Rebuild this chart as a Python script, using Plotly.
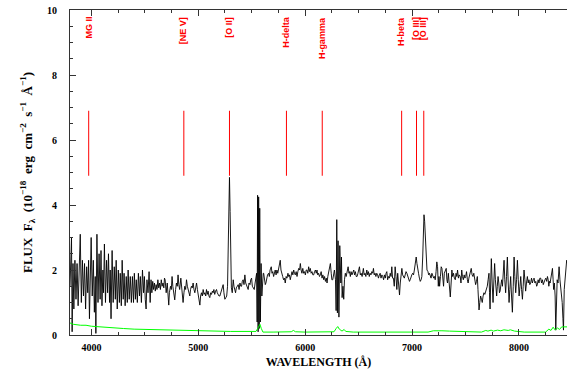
import plotly.graph_objects as go

# ---- spectrum (wavelength in Angstrom, flux in 1e-18 erg/cm2/s/A) ----
wave_a = [3800,3808,3814,3820,3828,3836,3846,3856,3866,3876,3886,3896,3906,3916,3926,3936,3946,3956,3966,3974,3982,3990,3998,4008,4018,4028,4036,4042,4052,4062,4072,4082,4090,4099,4108,4114,4122,4132,4142,4152,4160,4170,4176,4184,4194,4204,4214,4224,4232,4242,4252,4262,4270,4280,4288,4298,4306,4316,4326,4336,4344,4354,4364,4374,4384,4394,4402,4412,4420,4430,4440,4450,4458,4468,4478,4488,4496,4504,4512,4520,4530,4540,4550,4558,4566,4574,4582,4590,4598,4606,4614,4622,4630,4638,4646,4654,4662,4670,4678,4684]
flux_a = [1.5,2.9,3.0,0.1,2.2,0.8,2.3,1.1,2.2,0.9,2.0,3.1,1.0,2.3,1.2,2.2,0.8,2.1,1.3,2.3,0.5,1.7,3.0,1.2,2.3,0.7,1.8,0.05,3.1,1.0,2.5,1.1,2.6,0.9,2.0,1.3,2.8,1.0,2.3,1.3,2.5,1.0,2.0,0.5,2.6,1.0,2.1,1.1,2.3,0.8,2.0,1.0,1.9,0.9,2.3,1.1,1.9,0.9,1.8,1.0,2.0,1.1,1.8,1.0,1.8,1.0,1.9,1.1,1.7,1.0,1.9,1.2,1.8,1.0,2.0,1.3,1.8,1.1,0.8,1.7,1.3,1.95,1.0,1.7,1.3,1.65,1.4,1.6,1.35,1.55,1.4,1.7,1.45,1.6,1.4,1.7,1.5,1.6,1.45,1.75]

wave_b = [4690,4700,4710,4718,4724,4730,4740,4748,4755,4762,4770,4780,4788,4796,4804,4811,4818,4826,4837,4846,4852,4858,4866,4874,4882,4890,4898,4906,4914,4921,4928,4936,4944,4952,4960,4968,4976,4984,4992,5000,5008,5015,5022,5030,5038,5046,5054,5062,5070,5077,5085,5092,5100,5108,5116,5124,5132,5139,5146,5154,5162,5171,5178,5186,5194,5202,5210,5218,5226,5233,5240,5249,5258,5266,5274,5280,5286,5292,5298,5304,5310,5318,5327,5334,5341,5349,5356,5364,5374,5382,5390,5398,5405,5412,5420,5428,5436,5444,5452,5460,5467,5475,5484,5491,5499,5506,5514,5524,5532,5540,5546,5551,5555,5560,5565,5570,5575,5581,5588,5595,5602,5608]
flux_b = [1.7,1.3,1.6,1.2,0.92,1.3,1.5,1.4,1.8,1.5,1.3,1.08,1.4,1.6,1.5,1.85,1.55,1.4,1.75,1.4,1.2,1.0,1.3,1.5,1.4,1.7,1.5,1.35,1.25,1.2,1.4,1.5,1.45,1.6,1.4,1.3,1.45,1.6,1.4,1.2,1.05,0.92,1.2,1.3,1.2,1.4,1.25,1.3,1.2,1.4,1.25,1.35,1.2,1.15,1.3,1.25,1.35,1.3,1.4,1.25,1.35,1.4,1.3,1.25,1.2,1.2,1.3,1.4,1.5,1.55,1.3,1.1,1.15,1.2,1.5,2.6,4.0,4.85,3.8,2.0,1.45,1.3,1.7,1.5,1.4,1.3,1.45,1.5,1.55,1.4,1.6,1.5,1.5,1.65,1.7,1.55,1.85,1.6,1.5,1.45,1.4,1.6,1.55,1.7,1.75,1.5,1.45,1.4,1.6,1.9,1.9,0.4,4.3,0.1,4.25,0.2,3.9,0.4,2.2,1.2,1.8,1.9]

wave_c = [5612,5620,5627,5633,5640,5648,5658,5665,5672,5683,5690,5697,5705,5712,5720,5728,5736,5744,5752,5760,5767,5774,5782,5790,5798,5806,5814,5822,5830,5839,5846,5853,5861,5869,5877,5885,5893,5900,5908,5916,5924,5932,5940,5948,5955,5962,5970,5978,5986,5994,6002,6010,6017,6025,6033,6040,6048,6056,6064,6072,6080,6088,6096,6104,6111,6118,6126,6134,6142,6150,6158,6166,6174,6182,6190,6198,6205,6212,6220,6228,6236,6244,6250,6258,6266,6274,6284,6290,6296,6302,6308,6316,6324,6334,6340,6346,6354,6361,6368,6376,6384,6392,6402,6410,6416,6423,6430,6438,6446,6455,6462,6470,6478,6486,6494,6500,6508,6516,6524,6533]
flux_c = [1.9,1.7,1.55,1.6,1.75,1.85,1.9,1.8,2.0,2.1,1.9,1.95,1.8,1.9,2.0,1.85,2.0,1.9,2.05,2.1,2.3,2.0,1.85,1.8,1.7,1.75,1.6,1.8,1.75,1.9,1.8,1.85,1.7,1.9,1.95,1.85,2.0,1.9,1.85,1.95,1.8,1.95,2.05,2.0,2.2,2.0,1.9,2.05,1.9,1.95,1.85,2.0,2.0,1.9,2.1,1.95,2.05,1.9,1.95,1.85,1.85,1.95,2.0,1.9,2.0,1.85,1.9,1.8,1.85,1.95,1.75,1.85,1.7,1.8,1.65,1.75,1.6,1.8,1.95,2.05,2.2,1.9,1.7,1.7,1.85,2.0,1.7,0.75,3.55,0.68,2.9,0.55,2.75,1.6,2.4,1.15,1.5,1.1,1.7,1.9,1.8,2.0,2.1,1.9,1.95,1.8,1.95,1.85,1.9,2.0,1.85,1.95,1.8,1.8,1.9,2.0,2.1,1.85,1.9,1.8]

wave_d = [6540,6545,6552,6560,6568,6577,6585,6592,6600,6608,6616,6624,6632,6639,6646,6654,6662,6670,6678,6686,6694,6702,6710,6718,6726,6734,6742,6750,6757,6764,6772,6780,6788,6796,6804,6811,6818,6826,6834,6842,6850,6858,6866,6874,6883,6890,6898,6905,6912,6920,6928,6936,6944,6952,6960,6968,6976,6983,6990,6998,7006,7014,7022,7030,7039,7046,7054,7061,7069,7077,7085,7092,7100,7106,7112,7118,7124,7130,7140,7149,7156,7163,7170,7178,7186,7195,7203,7210,7217,7225,7232,7239,7246,7252,7258,7266,7273,7280,7287,7295,7302,7310,7320,7326,7332,7340,7348,7358,7366,7373,7380,7388,7396,7405,7412,7419,7426,7434,7442,7451]
flux_d = [1.95,2.05,1.85,1.9,1.8,2.0,1.85,1.95,1.8,1.9,1.85,1.95,1.9,2.05,1.85,1.9,1.8,1.9,1.85,1.75,1.85,1.9,1.75,1.85,1.8,1.7,1.85,1.75,1.9,1.95,1.7,1.8,1.75,1.9,1.8,2.1,1.75,1.75,1.5,2.1,1.8,1.4,1.9,1.6,1.23,1.6,1.9,2.05,1.85,1.8,1.75,1.85,1.95,1.9,1.8,1.75,1.65,1.7,1.8,1.85,1.9,1.85,2.0,2.2,2.4,2.2,1.95,1.9,1.75,1.65,1.7,1.8,2.4,3.2,3.7,3.5,2.9,2.45,2.0,1.95,1.85,1.9,1.85,1.75,1.9,1.8,1.75,1.8,1.7,1.95,2.25,2.1,1.5,1.8,1.5,1.8,2.1,2.05,1.6,1.5,1.9,2.0,2.05,1.7,1.6,1.9,1.5,1.17,1.6,2.0,1.8,1.9,1.75,1.7,1.9,1.8,2.0,1.75,1.85,1.8]

wave_e = [7458,7465,7472,7480,7488,7495,7502,7510,7518,7525,7532,7540,7548,7554,7562,7570,7578,7586,7595,7603,7611,7617,7622,7627,7634,7642,7650,7657,7665,7673,7681,7689,7697,7704,7712,7720,7725,7730,7736,7742,7750,7758,7765,7773,7780,7786,7792,7798,7805,7812,7818,7824,7832,7839,7846,7853,7861,7868,7876,7884,7892,7900,7908,7915,7923,7931,7939,7947,7955,7962,7970,7978,7986,7994,8002,8010,8017,8025,8033,8040,8048,8056,8063,8071,8079,8087,8094,8102,8110,8118,8126,8134,8142,8150,8158,8166,8173,8180,8188,8196,8204,8212,8220,8228,8236,8244,8252,8260,8267,8274,8280,8286,8292,8300,8307,8314,8320,8325,8332,8339,8345,8351,8358,8366,8372,8376,8384,8392,8398,8405,8412,8417,8424,8432,8440,8447,8455]
flux_e = [1.6,2.0,1.8,1.7,1.85,1.75,1.8,1.95,1.7,1.6,1.75,1.85,1.9,2.05,1.85,1.8,1.9,1.7,1.55,1.65,1.8,1.4,1.0,0.77,1.0,1.2,1.1,1.0,1.2,1.3,1.25,1.35,1.4,1.5,1.7,1.9,1.3,0.8,1.6,2.35,1.6,1.0,1.6,2.2,1.7,1.3,1.2,1.5,1.8,1.6,1.3,1.35,1.55,1.7,1.5,1.9,2.3,1.7,1.3,1.8,2.4,1.6,1.0,1.4,1.8,1.2,0.7,1.5,2.4,1.8,1.3,1.7,2.3,1.7,1.2,1.5,1.8,1.4,1.1,1.5,2.0,1.7,1.35,1.6,1.8,1.6,1.7,1.55,1.6,1.75,1.6,1.7,1.75,1.6,1.65,1.5,1.55,1.7,1.6,1.75,1.75,1.6,1.7,1.55,1.65,1.7,1.75,1.65,1.8,1.7,1.5,1.65,1.6,1.8,1.9,2.05,1.7,1.4,1.6,1.2,0.15,1.3,1.7,1.6,2.0,2.1,1.7,1.5,1.3,1.0,0.5,0.15,1.4,1.7,2.0,2.3,2.2]

# ---- error spectrum ----
err_wave = [3800,3830,3900,3950,4000,4100,4200,4300,4400,4500,4600,4700,4800,4900,5000,5100,5200,5300,5400,5500,5540,5560,5577,5590,5605,5700,5800,5870,5890,5910,6000,6100,6200,6270,6290,6305,6320,6345,6365,6380,6450,6600,6800,6900,7000,7150,7200,7240,7280,7350,7450,7550,7650,7690,7710,7740,7760,7800,7830,7860,7900,7920,7960,8050,8150,8250,8280,8300,8320,8340,8360,8380,8400,8455]
err_flux = [0.37,0.33,0.30,0.30,0.27,0.24,0.22,0.20,0.18,0.17,0.16,0.15,0.14,0.13,0.13,0.12,0.12,0.11,0.11,0.10,0.11,0.22,0.33,0.20,0.09,0.09,0.09,0.10,0.14,0.10,0.09,0.09,0.09,0.10,0.20,0.26,0.18,0.12,0.17,0.11,0.09,0.09,0.09,0.08,0.09,0.09,0.13,0.14,0.13,0.12,0.11,0.10,0.09,0.14,0.12,0.15,0.12,0.15,0.13,0.16,0.14,0.16,0.12,0.09,0.08,0.09,0.18,0.14,0.24,0.15,0.22,0.17,0.25,0.25]

# ---- line identifications ----
line_names = ["MG II", "[NE V]", "[O II]", "H-delta", "H-gamma", "H-beta", "[O III]", "[O III]"]
line_waves = [3975, 4865, 5292, 5825, 6160, 6903, 7042, 7110]
mark_low, mark_high, label_top = 4.9, 6.9, 9.85

wave = wave_a + wave_b + wave_c + wave_d + wave_e
flux = flux_a + flux_b + flux_c + flux_d + flux_e

fig = go.Figure()
fig.add_trace(go.Scatter(x=wave, y=flux, mode="lines",
                         line=dict(color="black", width=0.9), hoverinfo="skip"))
fig.add_trace(go.Scatter(x=err_wave, y=err_flux, mode="lines",
                         line=dict(color="#00ff00", width=1), hoverinfo="skip"))
mx, my = [], []
for w in line_waves:
    mx += [w, w, None]
    my += [mark_low, mark_high, None]
fig.add_trace(go.Scatter(x=mx, y=my, mode="lines",
                         line=dict(color="#ff0000", width=1), hoverinfo="skip"))

for name, w in zip(line_names, line_waves):
    fig.add_annotation(x=w, y=label_top, xref="x", yref="y", text=name,
                       textangle=-90, xanchor="center", yanchor="top",
                       showarrow=False,
                       font=dict(family="Liberation Sans", size=9, color="#ff0000", weight="bold"))

tickfont = dict(family="Liberation Serif", size=10, color="black", weight="bold")
titlefont = dict(family="Liberation Serif", size=12, color="black", weight="bold")

fig.update_layout(
    width=567, height=376,
    margin=dict(l=70, r=0, t=10, b=41),
    paper_bgcolor="white", plot_bgcolor="white",
    showlegend=False,
    xaxis=dict(range=[3800, 8450], showgrid=False, zeroline=False,
               showline=True, linecolor="#333333", linewidth=1, mirror="allticks",
               ticks="inside", ticklen=6, tickcolor="#333333", dtick=1000, tick0=0,
               minor=dict(dtick=250, ticks="inside", ticklen=3, tickcolor="#333333"),
               tickfont=tickfont, ticklabelstandoff=3,
               title=dict(text="WAVELENGTH (Å)", font=titlefont, standoff=5)),
    yaxis=dict(range=[0, 10], showgrid=False, zeroline=False,
               showline=True, linecolor="#333333", linewidth=1, mirror=False,
               ticks="inside", ticklen=6, tickcolor="#333333", dtick=2, tick0=0,
               minor=dict(dtick=0.5, ticks="inside", ticklen=3, tickcolor="#333333"),
               tickfont=tickfont, ticklabelstandoff=10,
               title=dict(text="FLUX  F<sub>λ</sub>  (10<sup>−18</sup>  erg  cm<sup>−2</sup>  s<sup>−1</sup>  Å<sup>−1</sup>)",
                          font=dict(family="Liberation Serif", size=13, color="black", weight="bold"),
                          standoff=11)),
)

fig.write_html("out.html", config={"displayModeBar": False},
               post_script="document.body.style.margin='0px';document.body.style.overflow='hidden';")
